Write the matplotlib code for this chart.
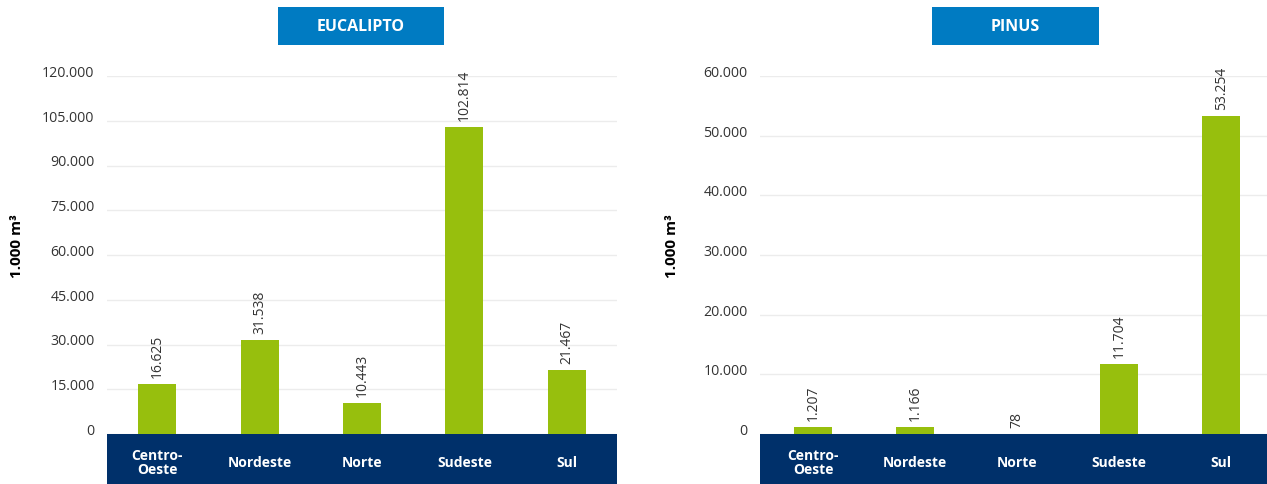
import matplotlib
matplotlib.use("Agg")
import matplotlib.pyplot as plt
import matplotlib.transforms as mtransforms
from matplotlib.patches import Rectangle

plt.rcParams['font.family'] = ['Open Sans', 'DejaVu Sans']

# Production by region (1.000 m³)
regions = ["Centro-\nOeste", "Nordeste", "Norte", "Sudeste", "Sul"]
eucalipto = [16625, 31538, 10443, 102814, 21467]
pinus = [1207, 1166, 78, 11704, 53254]

euc_ticks = [0, 15000, 30000, 45000, 60000, 75000, 90000, 105000, 120000]
pin_ticks = [0, 10000, 20000, 30000, 40000, 50000, 60000]

GREEN = "#97bf0d"
NAVY = "#00306a"
BLUE = "#007bc2"
GRID = "#ececec"
TXT = "#333333"

W, H = 1267, 485
fig = plt.figure(figsize=(W / 100, H / 100), dpi=100)


def fmt(v):
    return f"{v:,}".replace(",", ".")


def panel(rect, values, ticks, title, title_box, ylab_x, xlim):
    ax = fig.add_axes(rect)
    x = list(range(len(values)))
    ax.bar(x, values, width=0.37, color=GREEN, zorder=3)
    ax.set_xlim(*xlim)
    ax.set_ylim(0, ticks[-1])
    ax.set_yticks(ticks)
    ax.set_yticklabels([fmt(t) for t in ticks], fontsize=10.2, color=TXT)
    ax.tick_params(axis='y', length=0, pad=9)
    ax.set_xticks([])
    ax.grid(axis='y', color=GRID, linewidth=1, zorder=0)
    for s in ax.spines.values():
        s.set_visible(False)
    # nudge tick labels slightly above their gridline
    off = mtransforms.ScaledTranslation(0, 4 / 72, fig.dpi_scale_trans)
    for lab in ax.get_yticklabels():
        lab.set_transform(lab.get_transform() + off)

    # value labels
    for xi, v in zip(x, values):
        ax.annotate(fmt(v), (xi, v), xytext=(0, 5), textcoords="offset points",
                    rotation=90, ha='center', va='bottom', fontsize=10,
                    color=TXT, annotation_clip=False)

    # navy band with category names
    band_h = 50 / (rect[3] * H)
    ax.add_patch(Rectangle((0, -band_h), 1, band_h, transform=ax.transAxes,
                           facecolor=NAVY, edgecolor='none', clip_on=False, zorder=2))
    trans = mtransforms.blended_transform_factory(ax.transData, ax.transAxes)
    for xi, name in zip(x, regions):
        ax.text(xi, -28 / (rect[3] * H), name, transform=trans, ha='center',
                va='center', color='white', fontsize=10, fontweight='bold',
                linespacing=1.0, zorder=4)

    # title box
    bx0, by0, bw, bh = title_box
    fig.patches.append(Rectangle((bx0 / W, 1 - (by0 + bh) / H), bw / W, bh / H,
                                 transform=fig.transFigure, facecolor=BLUE,
                                 edgecolor='none'))
    fig.text((bx0 + bw / 2) / W, 1 - (by0 + bh / 2) / H, title, color='white',
             fontsize=11.5, fontweight='bold', ha='center', va='center')

    fig.text(ylab_x / W, 1 - 246 / H, "1.000 m³", rotation=90, ha='center',
             va='center', fontsize=11, fontweight='bold', color='black')
    return ax


bottom = (H - 435) / H
height = (435 - 77) / H
panel([107 / W, bottom, 510 / W, height], eucalipto, euc_ticks, "EUCALIPTO",
      (278, 8, 166, 38), 17, (-0.49, 4.49))
panel([760 / W, bottom, 507 / W, height], pinus, pin_ticks, "PINUS",
      (932, 8, 167, 38), 672, (-0.52, 4.45))

fig.savefig("out.png", dpi=100)
